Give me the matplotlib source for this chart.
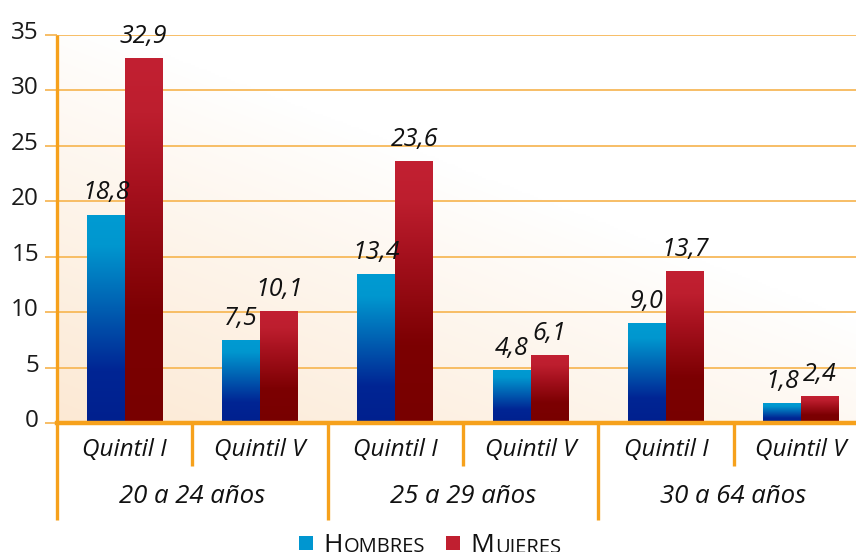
import matplotlib
matplotlib.use("Agg")
import matplotlib.pyplot as plt
import numpy as np
from matplotlib.colors import LinearSegmentedColormap, to_rgb
from matplotlib.patches import Rectangle
import matplotlib.transforms as mtransforms

# ---------------- data ----------------
groups = ["20 a 24 años", "25 a 29 años", "30 a 64 años"]
quintiles = ["Quintil I", "Quintil V", "Quintil I", "Quintil V", "Quintil I", "Quintil V"]
hombres = [18.8, 7.5, 13.4, 4.8, 9.0, 1.8]
mujeres = [32.9, 10.1, 23.6, 6.1, 13.7, 2.4]
series_names = ["Hombres", "Mujeres"]
yticks = [0, 5, 10, 15, 20, 25, 30, 35]

# ---------------- style ----------------
FONT = "Open Sans"
ORANGE = "#f6a11c"
GRID = "#f7b95a"
BLUE_CMAP = LinearSegmentedColormap.from_list(
    "b", [(0.0, "#00208e"), (0.25, "#002594"), (0.6, "#0068b6"), (0.85, "#0097cf"), (1.0, "#009bd2")])
RED_CMAP = LinearSegmentedColormap.from_list(
    "r", [(0.0, "#780000"), (0.3, "#7c0002"), (0.65, "#a6111e"), (0.85, "#bd1e2e"), (1.0, "#c22032")])
LEG_BLUE = "#0096d0"
LEG_RED = "#c01f30"

W, H = 856, 552
fig = plt.figure(figsize=(W / 100, H / 100), dpi=100)
ax = fig.add_axes([57 / W, 129 / H, 1 - 57 / W, 388 / H])

x = np.arange(len(quintiles))
bw = 0.28

# background gradient (peach bottom-left -> white top-right)
gx, gy = np.meshgrid(np.linspace(0, 1, 200), np.linspace(0, 1, 200))
t = np.clip(1 - (0.75 * gx + 0.95 * gy), 0, 1) ** 0.9
c0 = np.array(to_rgb("#ffffff"))
c1 = np.array(to_rgb("#fce9d4"))
bg = c0[None, None, :] * (1 - t[..., None]) + c1[None, None, :] * t[..., None]
ax.imshow(bg, extent=[0, 1, 0, 1], transform=ax.transAxes, origin="lower",
          aspect="auto", zorder=0, interpolation="bilinear")

bars_h = ax.bar(x - bw / 2, hombres, bw, color="none", zorder=3)
bars_m = ax.bar(x + bw / 2, mujeres, bw, color="none", zorder=3)

grad = np.linspace(0, 1, 256).reshape(-1, 1)
for bars, cmap in ((bars_h, BLUE_CMAP), (bars_m, RED_CMAP)):
    for p in bars:
        x0, w, h = p.get_x(), p.get_width(), p.get_height()
        im = ax.imshow(grad, extent=[x0, x0 + w, 0, h], origin="lower", aspect="auto",
                       cmap=cmap, zorder=3, interpolation="bilinear")
        im.set_clip_path(p)

def fmt(v):
    return f"{v:.1f}".replace(".", ",")

for bars, vals in ((bars_h, hombres), (bars_m, mujeres)):
    for p, v in zip(bars, vals):
        ax.annotate(fmt(v), (p.get_x() + p.get_width() / 2, v), xytext=(0, 11),
                    textcoords="offset points", ha="center", va="baseline",
                    fontsize=18, style="italic", family=FONT, color="#111111", zorder=5)

ax.set_xlim(-0.5, 5.405)
ax.set_ylim(0, 35)
ax.set_yticks(yticks)
ax.set_yticklabels([str(v) for v in yticks], family=FONT, fontsize=17.5, color="#1a1a1a")
ax.set_xticks([])
ax.tick_params(axis="y", length=9, width=1.3, color=GRID, pad=4)
offset = mtransforms.ScaledTranslation(0, 0.05, fig.dpi_scale_trans)
for lab in ax.get_yticklabels():
    lab.set_transform(lab.get_transform() + offset)

ax.grid(axis="y", color=GRID, linewidth=1.3, zorder=1)
ax.set_axisbelow(True)
for s in ("top", "right"):
    ax.spines[s].set_visible(False)
ax.spines["left"].set_visible(False)
ax.spines["bottom"].set_color(ORANGE)
ax.spines["bottom"].set_linewidth(3.2)
ax.spines["bottom"].set_zorder(6)

trans = mtransforms.blended_transform_factory(ax.transData, ax.transAxes)
# left axis line extended below
ax.plot([-0.5, -0.5], [1.0, -0.25], transform=trans, color=ORANGE, lw=2.4,
        clip_on=False, zorder=6, solid_capstyle="butt")
# short separators between quintiles, long separators between groups
for xs in (0.5, 2.5, 4.5):
    ax.plot([xs, xs], [0, -0.11], transform=trans, color=ORANGE, lw=2.4,
            clip_on=False, zorder=6, solid_capstyle="butt")
for xs in (1.5, 3.5):
    ax.plot([xs, xs], [0, -0.25], transform=trans, color=ORANGE, lw=2.4,
            clip_on=False, zorder=6, solid_capstyle="butt")

# category labels
for xi, q in zip(x, quintiles):
    ax.text(xi, -0.07, q, transform=trans, ha="center", va="center",
            fontsize=17.5, style="italic", family=FONT, color="#111111")
for gi, g in enumerate(groups):
    ax.text(2 * gi + 0.5, -0.19, g, transform=trans, ha="center", va="center",
            fontsize=18.5, style="italic", family=FONT, color="#111111")

# legend with small caps
fig.canvas.draw()
renderer = fig.canvas.get_renderer()

def smallcaps(xpx, ypx, word):
    t1 = fig.text(xpx / W, ypx / H, word[0].upper(), fontsize=19, family=FONT,
                  color="#111111", va="baseline", ha="left")
    bb = t1.get_window_extent(renderer)
    fig.text(bb.x1 / W + 1 / W, ypx / H, word[1:].upper(), fontsize=14.5, family=FONT,
             color="#111111", va="baseline", ha="left")

for (sx, name, col) in ((299, series_names[0], LEG_BLUE), (446, series_names[1], LEG_RED)):
    fig.patches.append(Rectangle((sx / W, 2 / H), 14 / W, 14 / H, transform=fig.transFigure,
                                 facecolor=col, edgecolor="none"))
    smallcaps(sx + 24, -0.5, name)

fig.savefig("out.png", dpi=100)
